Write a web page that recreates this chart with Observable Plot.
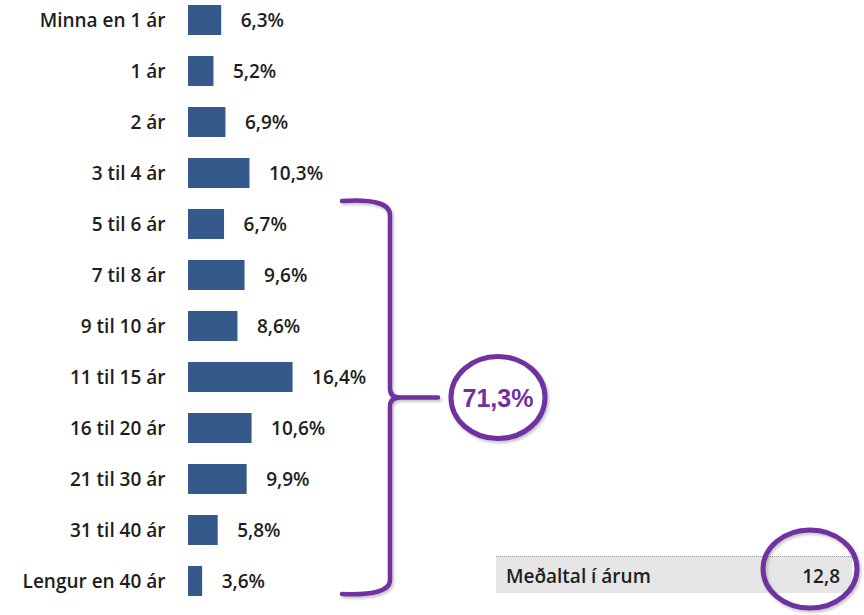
<!DOCTYPE html>
<html>
<head>
<meta charset="utf-8">
<script src="https://cdn.jsdelivr.net/npm/d3@7"></script>
<script src="https://cdn.jsdelivr.net/npm/@observablehq/plot@0.6"></script>
<style>
  html, body { margin: 0; padding: 0; background: #fff; }
  #chart { width: 864px; height: 615px; }
</style>
</head>
<body>
<div id="chart"></div>
<script>
// ---- data ----
const categories = ["Minna en 1 ár", "1 ár", "2 ár", "3 til 4 ár", "5 til 6 ár", "7 til 8 ár",
  "9 til 10 ár", "11 til 15 ár", "16 til 20 ár", "21 til 30 ár", "31 til 40 ár", "Lengur en 40 ár"];
const shares = [6.3, 5.2, 6.9, 10.3, 6.7, 9.6, 8.6, 16.4, 10.6, 9.9, 5.8, 3.6];
const bracketFrom = "5 til 6 ár";
const bracketTo = "Lengur en 40 ár";
const bracketLabel = "71,3%";
const meanLabel = "Meðaltal í árum";
const meanValue = "12,8";

const rows = categories.map((c, i) => ({cat: c, value: shares[i]}));
const fmt = v => v.toFixed(1).replace(".", ",") + "%";

const purple = "#7030A0";
const font = "'Open Sans', Lato, sans-serif";
const fs = 19;

const chart = Plot.plot({
  width: 864,
  height: 615,
  marginLeft: 188,
  marginRight: 546,
  marginTop: 4,
  marginBottom: 18,
  style: {fontFamily: font, fontSize: fs + "px", fontWeight: 600, color: "#1e1e1e", background: "#fff"},
  x: {domain: [1.6, 20], clamp: true, axis: null},
  y: {domain: categories, paddingInner: 0.41, paddingOuter: 0, axis: null},
  marks: [
    Plot.barX(rows, {x: "value", y: "cat", fill: "#34598a"}),
    Plot.text(rows, {x: "value", y: "cat", text: d => fmt(d.value), textAnchor: "start", dx: 19, fontSize: fs}),
    Plot.axisY({tickSize: 0, tickPadding: 23, fontSize: fs, label: null})
  ]
});
document.getElementById("chart").appendChild(chart);

// ---- annotations, positioned from the plot's y scale ----
const yScale = chart.scale("y");
const bw = yScale.bandwidth;
const yTop = yScale.apply(bracketFrom) + bw / 2 - 23;
const yBot = yScale.apply(bracketTo) + bw / 2 + 13;
const yMid = (yTop + yBot) / 2;

const svg = d3.select(chart);
const defs = svg.append("defs");
const f = defs.append("filter").attr("id", "shadow").attr("x", "-20%").attr("y", "-20%").attr("width", "140%").attr("height", "140%");
f.append("feDropShadow").attr("dx", 1.5).attr("dy", 2).attr("stdDeviation", 1.5)
  .attr("flood-color", "#777").attr("flood-opacity", 0.45);

const xb = 390, xl = 342, xt = 438;
svg.append("path")
  .attr("d", `M${xl},${yTop} Q${xb},${yTop - 3} ${xb},${yTop + 14} L${xb},${yMid - 9} Q${xb},${yMid} ${xb + 10},${yMid} L${xt},${yMid} M${xb + 10},${yMid} Q${xb},${yMid} ${xb},${yMid + 9} L${xb},${yBot - 14} Q${xb},${yBot + 2} ${xl},${yBot}`)
  .attr("fill", "none").attr("stroke", purple).attr("stroke-width", 4.5)
  .attr("stroke-linecap", "round").attr("stroke-linejoin", "round")
  .attr("filter", "url(#shadow)");

svg.append("ellipse")
  .attr("cx", 498).attr("cy", yMid).attr("rx", 47).attr("ry", 41)
  .attr("fill", "#fff").attr("stroke", purple).attr("stroke-width", 5)
  .attr("filter", "url(#shadow)");
svg.append("text")
  .attr("x", 498).attr("y", yMid).attr("dy", "0.36em")
  .attr("text-anchor", "middle")
  .attr("font-family", "'Liberation Sans', Arial, sans-serif").attr("font-weight", 700)
  .attr("font-size", 25).attr("fill", purple)
  .text(bracketLabel);

// mean box
const g = svg.append("g");
g.append("rect").attr("x", 496).attr("y", 556).attr("width", 356).attr("height", 37).attr("fill", "#e6e6e6");
g.append("line").attr("x1", 496).attr("x2", 852).attr("y1", 556.5).attr("y2", 556.5)
  .attr("stroke", "#9a9a9a").attr("stroke-dasharray", "1,1");
g.append("text").attr("x", 506).attr("y", 576).attr("dy", "0.36em").attr("text-anchor", "start")
  .attr("font-family", font).attr("font-weight", 600).attr("font-size", fs).attr("fill", "#1e1e1e")
  .text(meanLabel);
g.append("text").attr("x", 840).attr("y", 576).attr("dy", "0.36em").attr("text-anchor", "end")
  .attr("font-family", font).attr("font-weight", 600).attr("font-size", fs).attr("fill", "#1e1e1e")
  .text(meanValue);
svg.append("ellipse")
  .attr("cx", 810).attr("cy", 569).attr("rx", 47).attr("ry", 39)
  .attr("fill", "none").attr("stroke", purple).attr("stroke-width", 5)
  .attr("filter", "url(#shadow)");
</script>
</body>
</html>
